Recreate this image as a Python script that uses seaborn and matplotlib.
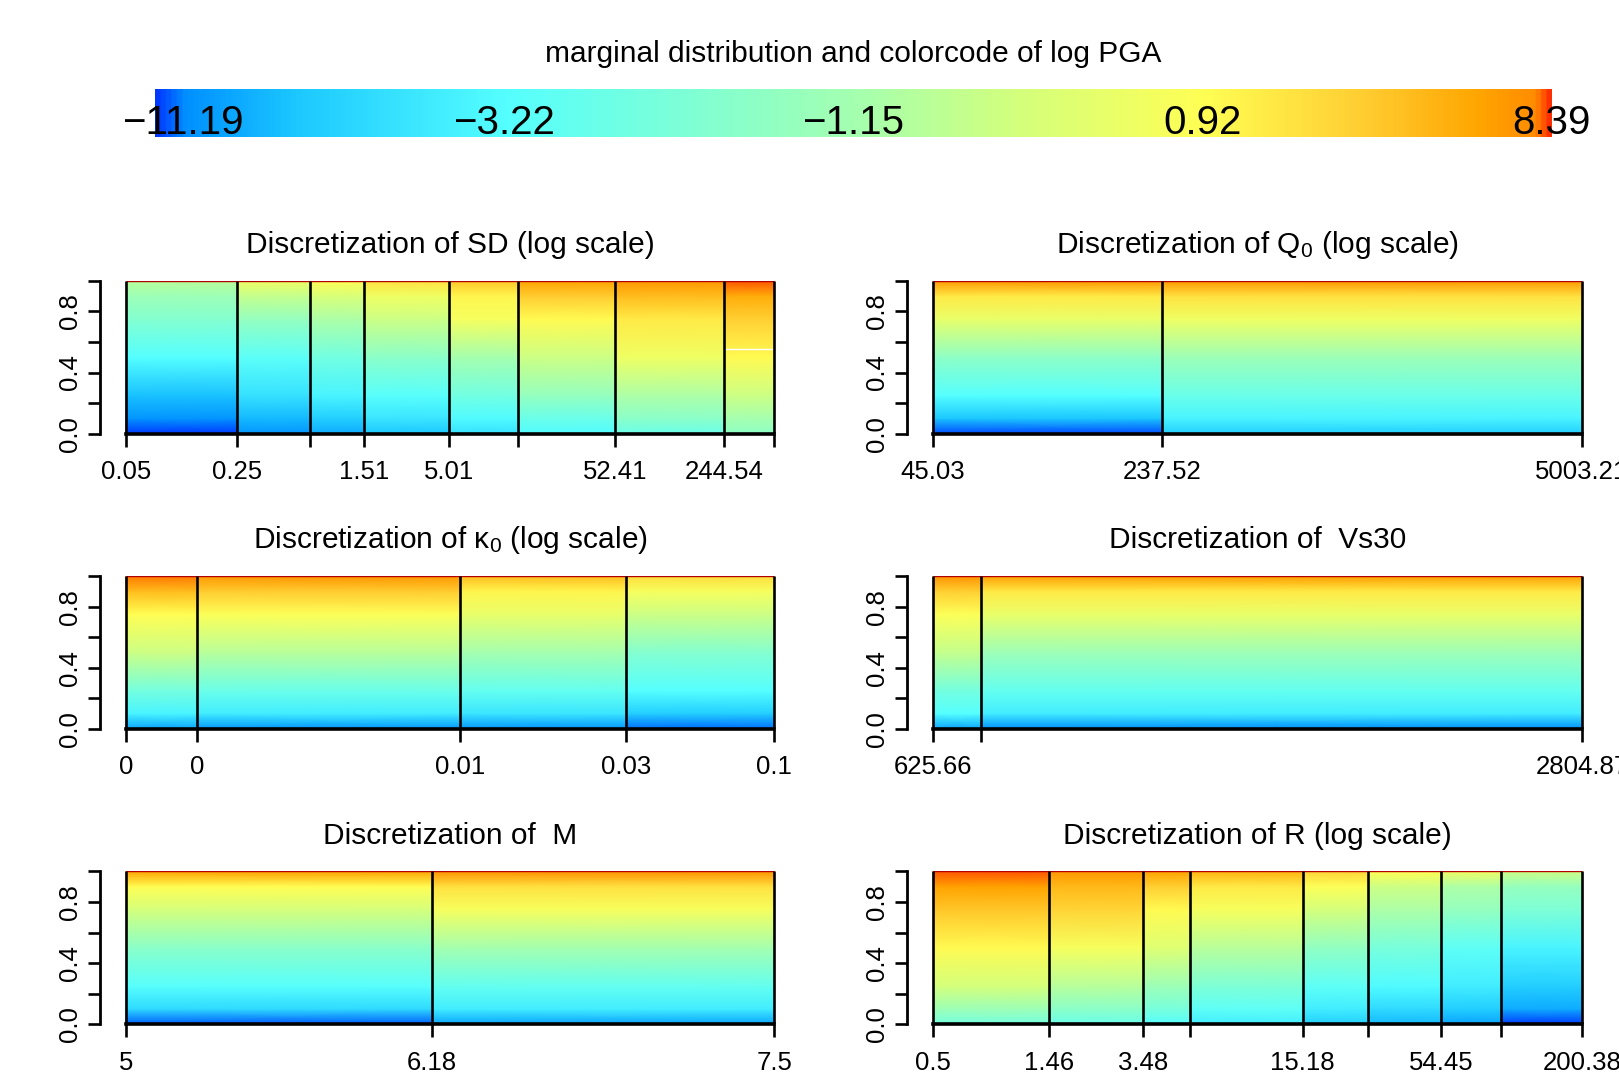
import numpy as np
import matplotlib
matplotlib.use("Agg")
import matplotlib.pyplot as plt
from matplotlib.colors import LinearSegmentedColormap
from matplotlib.ticker import FixedLocator, NullLocator
import seaborn as sns

# colour ramp along the marginal quantiles of log PGA
ramp_pos = [0.0, 0.02, 0.10, 0.25, 0.50, 0.62, 0.75, 0.87, 0.95, 0.99, 1.0]
ramp_col = ["#0038FF", "#0090FF", "#1CC8FF", "#55FFFF", "#A4FFB0", "#D4FF7C",
            "#FFFF55", "#FFCC30", "#FFA500", "#FF8C00", "#FF3000"]

cbar_labels = ["\u221211.19", "\u22123.22", "\u22121.15", "0.92", "8.39"]
cbar_label_pos = [0.02, 0.25, 0.5, 0.75, 1.0]

# heights inside each bin where the marginal quantile level is read
heights = [0.0, 0.1, 0.25, 0.5, 0.75, 0.9, 1.0]

sd_edges = [0.0516, 0.25, 0.699, 1.51, 5.01, 13.25, 52.41, 244.54, 498.0]
sd_labels = ["0.05", "0.25", "", "1.51", "5.01", "", "52.41", "244.54", ""]
sd_u = [
    [0.00, 0.03, 0.09, 0.25, 0.40, 0.48, 0.55],
    [0.03, 0.08, 0.17, 0.27, 0.45, 0.58, 0.70],
    [0.06, 0.12, 0.22, 0.34, 0.52, 0.63, 0.75],
    [0.10, 0.18, 0.26, 0.42, 0.60, 0.70, 0.82],
    [0.17, 0.24, 0.34, 0.50, 0.72, 0.77, 0.88],
    [0.24, 0.32, 0.45, 0.60, 0.76, 0.87, 0.95],
    [0.32, 0.42, 0.52, 0.70, 0.80, 0.90, 0.97],
    [0.43, 0.50, 0.60, 0.76, 0.86, 0.93, 0.995],
]

q0_edges = [45.03, 237.52, 5003.21]
q0_labels = ["45.03", "237.52", "5003.21"]
q0_u = [
    [0.005, 0.10, 0.25, 0.43, 0.68, 0.80, 0.97],
    [0.12, 0.22, 0.32, 0.48, 0.70, 0.82, 0.97],
]

k0_edges = [0.0006, 0.00105, 0.0084, 0.031, 0.1]
k0_labels = ["0", "0", "0.01", "0.03", "0.1"]
k0_u = [
    [0.05, 0.22, 0.35, 0.60, 0.75, 0.90, 0.99],
    [0.03, 0.20, 0.32, 0.55, 0.74, 0.87, 0.97],
    [0.03, 0.18, 0.30, 0.50, 0.68, 0.77, 0.90],
    [0.015, 0.12, 0.25, 0.40, 0.60, 0.72, 0.83],
]

vs_edges = [625.66, 784.9, 2804.87]
vs_labels = ["625.66", "", "2804.87"]
vs_u = [
    [0.05, 0.25, 0.35, 0.58, 0.74, 0.86, 0.98],
    [0.02, 0.20, 0.30, 0.48, 0.68, 0.80, 0.96],
]

m_edges = [5.0, 6.18, 7.5]
m_labels = ["5", "6.18", "7.5"]
m_u = [
    [0.01, 0.15, 0.26, 0.42, 0.62, 0.75, 0.95],
    [0.05, 0.20, 0.30, 0.50, 0.72, 0.82, 0.98],
]

r_edges = [0.5, 1.46, 3.48, 5.34, 15.18, 27.8, 54.45, 94.9, 200.38]
r_labels = ["0.5", "1.46", "3.48", "", "15.18", "", "54.45", "", "200.38"]
r_u = [
    [0.35, 0.48, 0.62, 0.76, 0.88, 0.95, 0.995],
    [0.32, 0.42, 0.55, 0.72, 0.85, 0.91, 0.97],
    [0.25, 0.36, 0.48, 0.65, 0.76, 0.86, 0.95],
    [0.20, 0.28, 0.38, 0.55, 0.72, 0.80, 0.92],
    [0.12, 0.20, 0.28, 0.44, 0.62, 0.74, 0.85],
    [0.08, 0.15, 0.24, 0.36, 0.52, 0.60, 0.75],
    [0.05, 0.12, 0.20, 0.28, 0.45, 0.52, 0.70],
    [0.00, 0.06, 0.12, 0.22, 0.38, 0.45, 0.60],
]

W, H = 1619, 1076


def px_rect(x0, x1, top, bottom):
    return [x0 / W, 1 - bottom / H, (x1 - x0) / W, (bottom - top) / H]


def draw_panel(fig, rect, title, edges, labels, u_cols, cmap, log=True, white_line=None):
    ax = fig.add_axes(rect)
    edges = np.asarray(edges, dtype=float)
    if log:
        ax.set_xscale("log")
        lo, hi = np.log10(edges[0]), np.log10(edges[-1])
        pad = 0.04 * (hi - lo)
        ax.set_xlim(10 ** (lo - pad), 10 ** (hi + pad))
    else:
        pad = 0.04 * (edges[-1] - edges[0])
        ax.set_xlim(edges[0] - pad, edges[-1] + pad)
    ax.set_ylim(0, 1)

    hy = np.asarray(heights)
    for i, u in enumerate(u_cols):
        X = np.array([[edges[i], edges[i + 1]]] * len(hy))
        Y = np.column_stack([hy, hy])
        C = np.column_stack([u, u])
        ax.pcolormesh(X, Y, C, cmap=cmap, vmin=0, vmax=1, shading="gouraud",
                      rasterized=True)

    if white_line is not None:
        j, yv = white_line
        ax.hlines(yv, edges[j], edges[j + 1], color="white", lw=1.0, zorder=3)
    ax.hlines(1.0, edges[0], edges[-1], color="#B00000", lw=1.0, zorder=3)
    ax.vlines(edges, 0, 1, colors="black", lw=1.9, zorder=4)

    for side in ("top", "right"):
        ax.spines[side].set_visible(False)
    ax.spines["left"].set_bounds(0, 1)
    ax.spines["bottom"].set_bounds(edges[0], edges[-1])
    ax.spines["left"].set_linewidth(2.0)
    ax.spines["bottom"].set_linewidth(2.6)
    ax.spines["left"].set_color("black")
    ax.spines["bottom"].set_color("black")
    ax.spines["bottom"].set_zorder(5)

    ax.xaxis.set_major_locator(FixedLocator(edges))
    ax.xaxis.set_minor_locator(NullLocator())
    ax.set_xticklabels(labels)
    ax.set_yticks([0, 0.2, 0.4, 0.6, 0.8, 1.0])
    ax.set_yticklabels(["0.0", "", "0.4", "", "0.8", ""], rotation=90, va="center")
    ax.tick_params(axis="both", which="major", direction="out", length=9, width=1.9,
                   labelsize=18.5, colors="black", bottom=True, left=True,
                   top=False, right=False)
    ax.tick_params(axis="x", pad=10)
    ax.tick_params(axis="y", pad=4)
    ax.annotate(title, xy=(0.5, 1), xycoords="axes fraction", xytext=(0, 20),
                textcoords="offset points", ha="center", va="baseline",
                fontsize=21.5, color="black")
    return ax


def main():
    sns.set_theme(style="white")
    plt.rcParams["font.family"] = ["Liberation Sans", "DejaVu Sans"]
    plt.rcParams["text.color"] = "black"
    plt.rcParams["axes.edgecolor"] = "black"
    plt.rcParams["mathtext.fontset"] = "custom"
    plt.rcParams["mathtext.rm"] = "Liberation Sans"
    plt.rcParams["mathtext.it"] = "Liberation Sans:italic"

    cmap = LinearSegmentedColormap.from_list("pga", list(zip(ramp_pos, ramp_col)))

    fig = plt.figure(figsize=(W / 100, H / 100), dpi=100)
    fig.patch.set_facecolor("white")

    # colour code bar
    cax = fig.add_axes(px_rect(154.9, 1551.8, 88.8, 137.3))
    grad = np.linspace(0, 1, 512)[None, :]
    cax.imshow(grad, cmap=cmap, aspect="auto", extent=[0, 1, 0, 1], vmin=0, vmax=1)
    cax.set_xlim(0, 1)
    cax.set_ylim(0, 1)
    cax.axis("off")
    for lab, pos in zip(cbar_labels, cbar_label_pos):
        cax.text(pos, 0.07, lab, ha="center", va="baseline", fontsize=29,
                 color="black", clip_on=False)
    fig.text(853.5 / W, 1 - 62 / H, "marginal distribution and colorcode of log PGA",
             ha="center", va="baseline", fontsize=21.5, color="black")

    left = (99.9, 800.3)
    right = (907.2, 1608.0)
    rows = [(280.8, 433.7), (576.1, 728.9), (871.4, 1024.2)]

    draw_panel(fig, px_rect(*left, *rows[0]), "Discretization of SD (log scale)",
               sd_edges, sd_labels, sd_u, cmap, log=True, white_line=(7, 0.555))
    draw_panel(fig, px_rect(*right, *rows[0]),
               "Discretization of $\\mathrm{Q}_0$ (log scale)",
               q0_edges, q0_labels, q0_u, cmap, log=True)
    draw_panel(fig, px_rect(*left, *rows[1]),
               "Discretization of $\\mathrm{κ}_0$ (log scale)",
               k0_edges, k0_labels, k0_u, cmap, log=True)
    draw_panel(fig, px_rect(*right, *rows[1]), "Discretization of  Vs30",
               vs_edges, vs_labels, vs_u, cmap, log=False)
    draw_panel(fig, px_rect(*left, *rows[2]), "Discretization of  M",
               m_edges, m_labels, m_u, cmap, log=False)
    draw_panel(fig, px_rect(*right, *rows[2]), "Discretization of R (log scale)",
               r_edges, r_labels, r_u, cmap, log=True)

    fig.savefig("out.png", dpi=100)
    plt.close(fig)


if __name__ == "__main__":
    main()
